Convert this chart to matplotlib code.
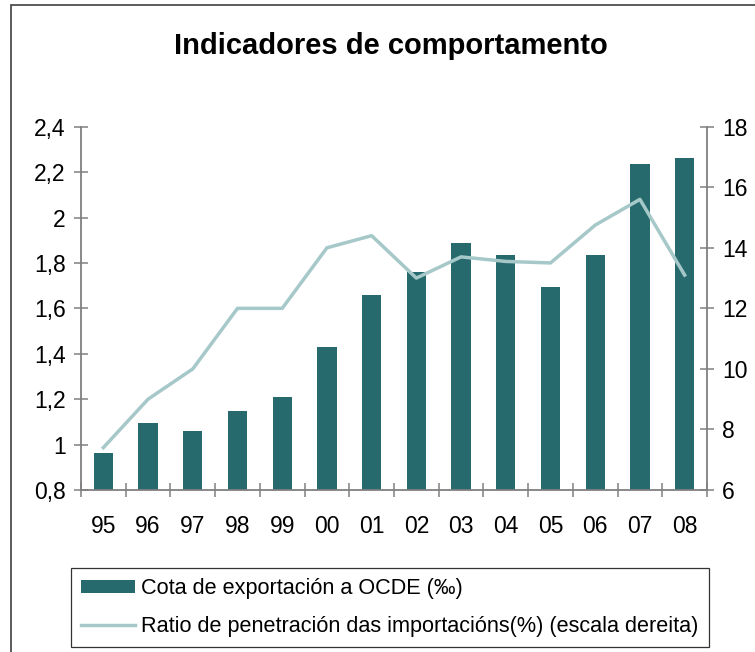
import numpy as np
import matplotlib.pyplot as plt
from matplotlib.patches import Rectangle

plt.rcParams['font.family'] = ['Liberation Sans', 'DejaVu Sans']

# data
years = ['95', '96', '97', '98', '99', '00', '01', '02', '03', '04', '05', '06', '07', '08']
cota_export = [0.965, 1.095, 1.06, 1.15, 1.21, 1.43, 1.66, 1.76, 1.89, 1.835, 1.695, 1.835, 2.235, 2.26]
ratio_penetracion = [7.4, 9.0, 10.0, 12.0, 12.0, 14.0, 14.4, 13.0, 13.7, 13.55, 13.5, 14.75, 15.6, 13.1]

bar_color = '#266A6E'
line_color = '#A6C8C9'
axis_gray = '#808080'

W, H = 755, 652
fig = plt.figure(figsize=(W / 100, H / 100), dpi=100)

# outer frame around the chart
fig.patches.append(Rectangle((11 / W, -0.1), 1.2, 1.1 - 5 / H, transform=fig.transFigure,
                             fill=False, edgecolor='#404040', linewidth=1.2))

ax = fig.add_axes([81 / W, (H - 490) / H, 626 / W, 363.3 / H])
x = np.arange(len(years))
bars = ax.bar(x, cota_export, width=0.43, color=bar_color, label='Cota de exportación a OCDE (‰)', zorder=2)

ax.set_xlim(-0.5, len(years) - 0.5)
ax.set_ylim(0.8, 2.4)
ax.set_yticks(np.arange(0.8, 2.41, 0.2))
ax.set_yticklabels([f'{v:.1f}'.replace('.', ',').replace(',0', '') for v in np.arange(0.8, 2.41, 0.2)])
ax.set_xticks(x)
ax.set_xticklabels(years)
ax.set_xticks(np.arange(-0.5, len(years)), minor=True)

# right axis for the import penetration ratio
ax2 = ax.twinx()
line, = ax2.plot(x, ratio_penetracion, color=line_color, linewidth=2.5,
                 label='Ratio de penetración das importacións(%) (escala dereita)', zorder=3)
ax2.set_ylim(6, 18)
ax2.set_yticks(np.arange(6, 19, 2))

for a in (ax, ax2):
    a.spines['top'].set_visible(False)
    for s in a.spines.values():
        s.set_color(axis_gray)
        s.set_linewidth(1.3)
    a.tick_params(axis='y', direction='inout', length=10, width=1.1, color=axis_gray,
                  labelsize=16.5, pad=6)
ax.tick_params(axis='x', which='major', length=0, labelsize=16.5, pad=18)
ax.tick_params(axis='x', which='minor', direction='inout', length=10, width=1.1, color=axis_gray)
ax.spines['right'].set_visible(False)
ax2.spines['left'].set_visible(False)
ax2.spines['bottom'].set_visible(False)

fig.text(391 / W, 1 - 46 / H, 'Indicadores de comportamento', ha='center', va='center',
         fontsize=21, fontweight='bold')

leg = fig.legend(handles=[bars, line], loc='lower left', bbox_to_anchor=(71 / W, 5 / H),
                 borderaxespad=0, fontsize=15.6, frameon=True, fancybox=False,
                 edgecolor='black', handlelength=2.5, handleheight=0.55, borderpad=0.45,
                 labelspacing=0.8, handletextpad=0.3)
leg.get_frame().set_linewidth(0.9)

fig.savefig('out.png', dpi=100)
